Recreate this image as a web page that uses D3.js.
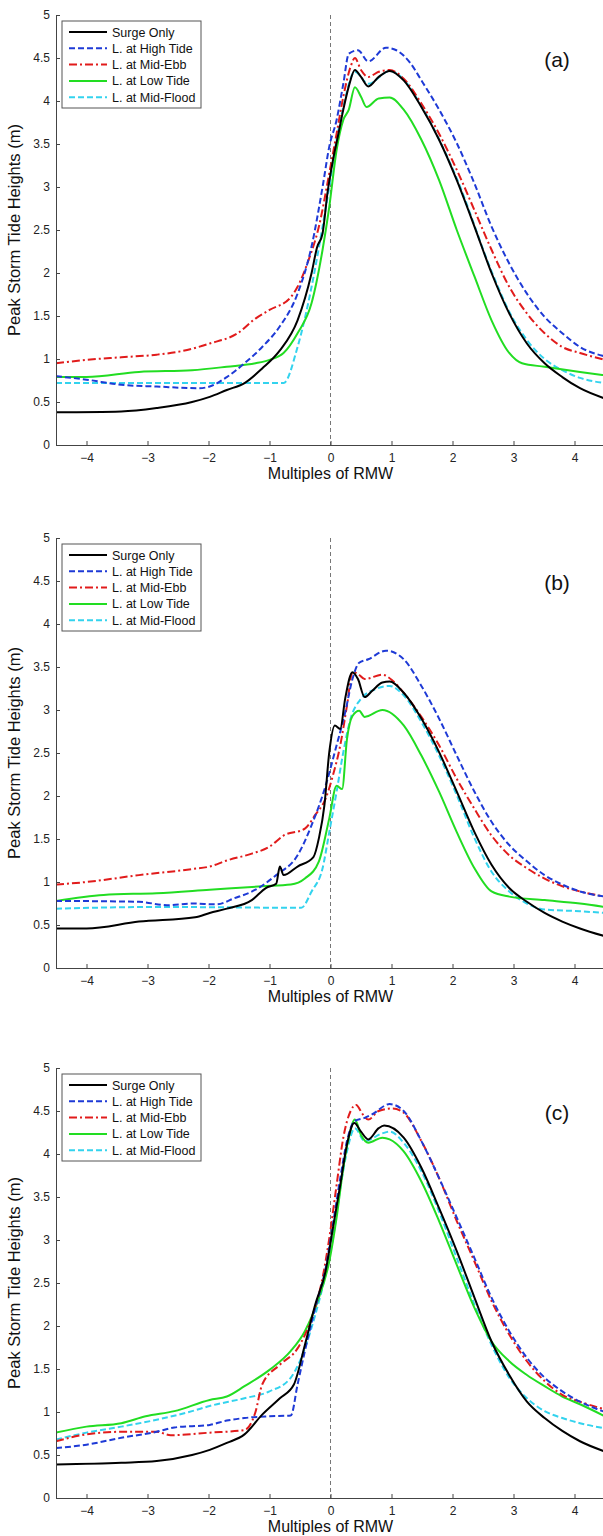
<!DOCTYPE html>
<html>
<head>
<meta charset="utf-8">
<script src="https://cdn.jsdelivr.net/npm/d3@7"></script>
<style>
  body { margin: 0; background: #fff; }
  text { font-family: "Liberation Sans", Arial, sans-serif; }
</style>
</head>
<body>
<div class="container"></div>
<script>
const wd = 603
const ht = 1536

// ---- data: [multiples of RMW, peak storm tide height (m)] ----
const seriesNames = ["Surge Only", "L. at High Tide", "L. at Mid-Ebb", "L. at Low Tide", "L. at Mid-Flood"]
const panelLabels = ["(a)", "(b)", "(c)"]
const xTicks = [-4, -3, -2, -1, 0, 1, 2, 3, 4]
const yTicks = [0, 0.5, 1, 1.5, 2, 2.5, 3, 3.5, 4, 4.5, 5]

const aSurge = [[-4.5,0.38],[-3.43,0.39],[-2.85,0.43],[-2.27,0.5],[-1.98,0.56],[-1.7,0.64],[-1.41,0.72],[-1.12,0.89],[-0.83,1.1],[-0.54,1.45],[-0.31,2.0],[-0.22,2.3],[-0.13,2.46],[-0.05,2.93],[0.04,3.31],[0.13,3.62],[0.21,3.9],[0.3,4.17],[0.4,4.36],[0.5,4.28],[0.62,4.17],[0.79,4.28],[0.97,4.35],[1.2,4.24],[1.49,3.93],[1.78,3.55],[2.07,3.08],[2.36,2.54],[2.64,2.0],[2.93,1.53],[3.22,1.18],[3.51,0.95],[3.8,0.79],[4.09,0.66],[4.5,0.54]]
const aHigh = [[-4.5,0.8],[-4.0,0.76],[-3.43,0.7],[-2.85,0.68],[-2.16,0.66],[-1.98,0.68],[-1.7,0.79],[-1.41,0.95],[-1.12,1.14],[-0.83,1.38],[-0.54,1.76],[-0.31,2.31],[-0.13,3.0],[-0.02,3.47],[0.1,3.78],[0.21,4.2],[0.3,4.55],[0.45,4.59],[0.62,4.46],[0.91,4.62],[1.08,4.59],[1.31,4.44],[1.49,4.24],[1.78,3.9],[2.07,3.51],[2.36,3.04],[2.64,2.54],[2.93,2.11],[3.22,1.76],[3.51,1.49],[3.8,1.3],[4.09,1.14],[4.5,1.03]]
const aEbb = [[-4.5,0.95],[-4.0,0.99],[-3.43,1.02],[-2.85,1.05],[-2.45,1.09],[-1.98,1.18],[-1.52,1.3],[-1.23,1.47],[-1.0,1.57],[-0.65,1.72],[-0.54,1.84],[-0.36,2.15],[-0.19,2.54],[-0.02,3.16],[0.1,3.62],[0.21,4.05],[0.33,4.4],[0.4,4.5],[0.5,4.36],[0.62,4.28],[0.79,4.34],[0.97,4.36],[1.2,4.26],[1.49,3.97],[1.78,3.62],[2.07,3.2],[2.36,2.73],[2.64,2.27],[2.93,1.84],[3.22,1.53],[3.51,1.3],[3.8,1.14],[4.09,1.07],[4.5,0.99]]
const aLow = [[-4.5,0.79],[-4.0,0.79],[-3.14,0.85],[-2.27,0.87],[-1.7,0.91],[-1.23,0.95],[-1.0,0.99],[-0.77,1.07],[-0.54,1.3],[-0.31,1.65],[-0.13,2.27],[-0.02,2.77],[0.1,3.43],[0.21,3.78],[0.3,3.9],[0.4,4.16],[0.5,4.05],[0.59,3.93],[0.79,4.03],[0.97,4.04],[1.2,3.9],[1.49,3.55],[1.78,3.08],[2.07,2.5],[2.36,1.96],[2.64,1.45],[2.93,1.07],[3.14,0.95],[3.51,0.91],[4.09,0.85],[4.5,0.81]]
const aFlood = [[-4.5,0.72],[-2.85,0.72],[-0.77,0.72],[-0.54,1.14],[-0.31,1.84],[-0.13,2.54],[-0.02,3.0],[0.1,3.55],[0.21,3.93],[0.4,4.34],[0.62,4.2],[0.97,4.35],[1.2,4.25],[1.49,3.94],[2.07,3.1],[2.64,2.02],[2.93,1.55],[3.22,1.22],[3.51,1.0],[3.8,0.87],[4.09,0.78],[4.5,0.72]]

const bSurge = [[-4.5,0.46],[-4.0,0.46],[-3.14,0.54],[-2.22,0.59],[-1.98,0.64],[-1.7,0.69],[-1.29,0.79],[-1.06,0.93],[-0.89,0.98],[-0.83,1.18],[-0.77,1.08],[-0.54,1.18],[-0.28,1.29],[-0.19,1.51],[-0.1,1.89],[-0.02,2.51],[0.07,2.82],[0.16,2.78],[0.24,3.13],[0.36,3.44],[0.45,3.36],[0.56,3.15],[0.68,3.22],[0.85,3.32],[0.97,3.33],[1.2,3.2],[1.49,2.9],[1.78,2.51],[2.07,2.05],[2.36,1.58],[2.64,1.2],[2.93,0.93],[3.22,0.77],[3.51,0.64],[3.8,0.54],[4.09,0.46],[4.5,0.37]]
const bHigh = [[-4.5,0.78],[-3.14,0.77],[-2.68,0.73],[-2.27,0.75],[-1.87,0.74],[-1.58,0.81],[-1.23,0.91],[-0.89,1.08],[-0.54,1.31],[-0.31,1.66],[-0.08,2.12],[0.1,2.59],[0.24,2.97],[0.36,3.36],[0.47,3.55],[0.62,3.59],[0.91,3.69],[1.2,3.59],[1.49,3.28],[1.78,2.9],[2.07,2.47],[2.36,2.05],[2.64,1.7],[2.93,1.43],[3.22,1.24],[3.51,1.08],[3.8,0.97],[4.09,0.89],[4.5,0.83]]
const bEbb = [[-4.5,0.97],[-4.0,1.0],[-3.14,1.08],[-2.27,1.15],[-1.98,1.18],[-1.7,1.25],[-1.29,1.33],[-1.0,1.41],[-0.77,1.54],[-0.42,1.62],[-0.25,1.78],[-0.08,1.97],[0.04,2.24],[0.16,2.59],[0.27,3.05],[0.36,3.44],[0.45,3.42],[0.56,3.36],[0.85,3.41],[1.02,3.34],[1.2,3.2],[1.49,2.92],[1.78,2.59],[2.07,2.2],[2.36,1.85],[2.64,1.54],[2.93,1.31],[3.22,1.16],[3.51,1.04],[3.8,0.95],[4.09,0.89],[4.5,0.83]]
const bLow = [[-4.5,0.78],[-3.72,0.85],[-2.85,0.87],[-1.98,0.91],[-1.12,0.95],[-0.65,0.97],[-0.42,1.04],[-0.19,1.24],[-0.02,1.74],[0.1,2.12],[0.19,2.08],[0.27,2.66],[0.36,2.93],[0.47,2.99],[0.56,2.92],[0.85,3.0],[1.2,2.82],[1.49,2.47],[1.78,2.05],[2.07,1.58],[2.36,1.16],[2.64,0.89],[2.93,0.83],[3.51,0.79],[4.09,0.75],[4.5,0.71]]
const bFlood = [[-4.5,0.69],[-2.85,0.71],[-0.48,0.7],[-0.31,0.89],[-0.13,1.16],[-0.02,1.58],[0.1,2.05],[0.21,2.51],[0.33,2.9],[0.5,3.13],[0.73,3.24],[0.97,3.28],[1.2,3.17],[1.49,2.86],[1.78,2.47],[2.07,2.01],[2.36,1.51],[2.64,1.12],[2.93,0.89],[3.22,0.75],[3.51,0.68],[4.09,0.66],[4.5,0.64]]

const cSurge = [[-4.5,0.39],[-3.43,0.41],[-2.85,0.43],[-2.27,0.5],[-1.98,0.56],[-1.7,0.64],[-1.41,0.74],[-1.12,0.97],[-0.83,1.16],[-0.6,1.32],[-0.42,1.78],[-0.25,2.25],[-0.08,2.64],[0.04,3.14],[0.16,3.64],[0.27,4.11],[0.39,4.36],[0.5,4.26],[0.62,4.17],[0.79,4.3],[0.88,4.33],[1.2,4.19],[1.49,3.84],[1.78,3.37],[2.07,2.87],[2.36,2.33],[2.64,1.82],[2.93,1.43],[3.22,1.12],[3.51,0.93],[3.8,0.78],[4.09,0.66],[4.5,0.54]]
const cHigh = [[-4.5,0.58],[-4.0,0.62],[-3.43,0.7],[-2.85,0.77],[-2.56,0.82],[-1.98,0.85],[-1.7,0.9],[-1.41,0.93],[-1.0,0.95],[-0.65,0.96],[-0.54,1.32],[-0.42,1.71],[-0.25,2.21],[-0.08,2.67],[0.04,3.18],[0.16,3.72],[0.27,4.15],[0.39,4.38],[0.56,4.42],[0.68,4.46],[0.97,4.58],[1.2,4.5],[1.49,4.15],[1.78,3.72],[2.07,3.26],[2.36,2.79],[2.64,2.33],[2.93,1.94],[3.22,1.63],[3.51,1.4],[3.8,1.24],[4.09,1.12],[4.5,1.0]]
const cEbb = [[-4.5,0.66],[-4.0,0.74],[-3.43,0.77],[-2.85,0.77],[-2.62,0.73],[-1.98,0.76],[-1.41,0.79],[-1.23,1.0],[-1.12,1.32],[-0.83,1.55],[-0.54,1.74],[-0.31,2.09],[-0.13,2.56],[-0.02,3.02],[0.1,3.64],[0.21,4.19],[0.33,4.5],[0.42,4.57],[0.53,4.46],[0.62,4.4],[0.79,4.5],[1.02,4.53],[1.2,4.48],[1.49,4.15],[1.78,3.72],[2.07,3.22],[2.36,2.75],[2.64,2.29],[2.93,1.9],[3.22,1.59],[3.51,1.36],[3.8,1.2],[4.09,1.12],[4.5,1.03]]
const cLow = [[-4.5,0.76],[-4.0,0.83],[-3.43,0.87],[-3.03,0.95],[-2.56,1.01],[-1.98,1.14],[-1.7,1.18],[-1.41,1.3],[-1.0,1.49],[-0.65,1.71],[-0.42,1.94],[-0.19,2.33],[-0.02,2.75],[0.1,3.26],[0.21,3.84],[0.3,4.19],[0.4,4.4],[0.5,4.22],[0.62,4.13],[0.85,4.19],[0.97,4.17],[1.2,4.03],[1.49,3.68],[1.78,3.22],[2.07,2.71],[2.36,2.21],[2.64,1.82],[2.93,1.59],[3.22,1.43],[3.51,1.3],[3.8,1.18],[4.09,1.09],[4.5,0.95]]
const cFlood = [[-4.5,0.68],[-4.0,0.76],[-3.43,0.83],[-2.85,0.91],[-2.27,1.01],[-1.98,1.07],[-1.41,1.16],[-1.0,1.24],[-0.65,1.4],[-0.42,1.74],[-0.25,2.13],[-0.08,2.6],[0.04,3.02],[0.16,3.6],[0.27,4.03],[0.4,4.3],[0.56,4.15],[0.85,4.24],[0.97,4.26],[1.2,4.13],[1.49,3.8],[1.78,3.33],[2.07,2.79],[2.36,2.25],[2.64,1.78],[2.93,1.4],[3.22,1.16],[3.51,1.01],[3.8,0.93],[4.09,0.87],[4.5,0.81]]

const panels = [
  [aSurge, aHigh, aEbb, aLow, aFlood],
  [bSurge, bHigh, bEbb, bLow, bFlood],
  [cSurge, cHigh, cEbb, cLow, cFlood]
]

// styles
const colours = ["#000000", "#1e3ad6", "#e11b1b", "#22dd22", "#33d3ee"]
const dashes = [null, "6,3", "8,3,2,3", null, "6,3"]
// draw order: surge drawn on top like the original
const drawOrder = [4, 3, 2, 1, 0]

const left = 56
const plotW = 549 // x axis runs off the right edge a little
const plotH = 430
const tops = [15, 538, 1068]

const x = d3.scaleLinear().domain([-4.5, 4.5]).range([0, plotW])
const y = d3.scaleLinear().domain([0, 5]).range([plotH, 0])

const lineFunc = d3.line()
  .x((d) => x(d[0]))
  .y((d) => y(d[1]))
  .curve(d3.curveMonotoneX)

const svg = d3.select(".container").append("svg")
  .attr("width", wd)
  .attr("height", ht)

svg.append("defs").append("clipPath").attr("id", "plotClip")
  .append("rect").attr("x", 0).attr("y", -5).attr("width", plotW).attr("height", plotH + 5)

panels.forEach((series, p) => {
  const g = svg.append("g").attr("transform", "translate(" + left + "," + tops[p] + ")")

  // zero line
  g.append("line")
    .attr("x1", x(0)).attr("x2", x(0))
    .attr("y1", y(5)).attr("y2", y(0))
    .attr("stroke", "#777")
    .attr("stroke-width", 1)
    .attr("stroke-dasharray", "4,3")

  const lines = g.append("g").attr("clip-path", "url(#plotClip)")
  drawOrder.forEach((i) => {
    lines.append("path")
      .datum(series[i])
      .attr("d", lineFunc)
      .attr("fill", "none")
      .attr("stroke", colours[i])
      .attr("stroke-width", 2)
      .attr("stroke-dasharray", dashes[i])
      .attr("stroke-linejoin", "round")
  })

  // axes, matlab style inward ticks
  const xAxis = g.append("g")
    .attr("transform", "translate(0," + plotH + ")")
    .call(d3.axisBottom(x).tickValues(xTicks).tickSizeInner(-4).tickSizeOuter(0).tickPadding(8).tickFormat(d3.format("d")))
  const yAxis = g.append("g")
    .call(d3.axisLeft(y).tickValues(yTicks).tickSizeInner(-4).tickSizeOuter(0).tickPadding(6).tickFormat((d) => d))

  ;[xAxis, yAxis].forEach((ax) => {
    ax.select(".domain").attr("stroke", "#444")
    ax.selectAll(".tick line").attr("stroke", "#444")
    ax.selectAll("text").attr("font-size", 12).attr("fill", "#222")
      .attr("font-family", "'Liberation Sans', Arial, sans-serif")
  })

  g.append("text")
    .attr("x", x(0))
    .attr("y", plotH + 34)
    .attr("text-anchor", "middle")
    .attr("font-size", 16)
    .attr("fill", "#111")
    .text("Multiples of RMW")

  g.append("text")
    .attr("transform", "translate(" + (-36) + "," + (plotH / 2) + ") rotate(-90)")
    .attr("text-anchor", "middle")
    .attr("font-size", 16.5)
    .attr("fill", "#111")
    .text("Peak Storm Tide Heights (m)")

  g.append("text")
    .attr("x", 501)
    .attr("y", 52)
    .attr("text-anchor", "middle")
    .attr("font-size", 21)
    .attr("fill", "#111")
    .text(panelLabels[p])

  // legend
  const lg = g.append("g").attr("transform", "translate(6,6)")
  lg.append("rect")
    .attr("width", 139).attr("height", 87)
    .attr("fill", "#fff")
    .attr("stroke", "#555")
    .attr("stroke-width", 1)
  seriesNames.forEach((name, i) => {
    const ry = 11 + i * 16.3
    lg.append("line")
      .attr("x1", 7).attr("x2", 45)
      .attr("y1", ry).attr("y2", ry)
      .attr("stroke", colours[i])
      .attr("stroke-width", 2)
      .attr("stroke-dasharray", dashes[i])
    lg.append("text")
      .attr("x", 50).attr("y", ry + 4.5)
      .attr("font-size", 12.5)
      .attr("fill", "#111")
      .text(name)
  })
})
</script>
</body>
</html>
